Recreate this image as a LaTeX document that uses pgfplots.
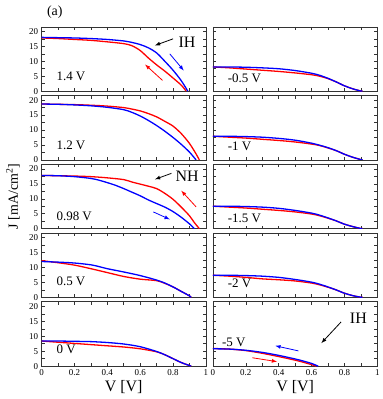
\documentclass[border=0pt]{standalone}
\usepackage{fontspec}
\setmainfont{Liberation Serif}
\usepackage{pgfplots}
\pgfplotsset{compat=1.18}
\usepgfplotslibrary{groupplots}

\pgfplotsset{
  jv/.style={
    width=165pt, height=64.5pt, scale only axis,
    xmin=0, xmax=1, ymin=0, ymax=21.5,
    xtick={0,0.2,0.4,0.6,0.8,1}, ytick={0,5,10,15,20},
    minor x tick num=1, minor y tick num=1,
    major tick length=3pt, minor tick length=3pt,
    tick style={black!80, line width=0.5pt},
    axis line style={black!80, line width=0.8pt},
    tick label style={font=\fontsize{9}{10}\selectfont},
    /pgf/number format/assume math mode=true,
    every axis plot/.append style={line width=1.3pt, no markers, smooth},
  },
}
\tikzset{vlab/.style={anchor=west, font=\fontsize{13}{14}\selectfont}}

\begin{document}
\begin{tikzpicture}
\begin{groupplot}[jv,
  group style={group size=2 by 5, horizontal sep=7pt, vertical sep=4.5pt,
    xticklabels at=edge bottom, yticklabels at=edge left}]

% 1.4 V
\nextgroupplot
\addplot[red] coordinates {(0,17.8)(0.1,17.6)(0.2,17.3)(0.3,17.0)(0.4,16.5)(0.5,15.9)(0.55,15.2)(0.6,13.6)(0.65,11.1)(0.7,8.8)(0.75,6.7)(0.8,4.4)(0.85,2.0)(0.88,0)};
\addplot[blue] coordinates {(0,18)(0.1,17.9)(0.2,17.8)(0.3,17.6)(0.4,17.3)(0.5,16.8)(0.55,16.3)(0.6,15.6)(0.65,14.5)(0.7,12.8)(0.75,10.0)(0.8,7.0)(0.85,3.5)(0.89,0)};
\node[vlab] at (axis cs:0.07,5) {1.4 V};
\node[font=\fontsize{16}{17}\selectfont] at (axis cs:0.885,16.3) {IH};
\draw[-latex, black, line width=0.8pt] (axis cs:0.80,17.5) -- (axis cs:0.69,15.3);
\draw[-latex, blue, line width=0.8pt] (axis cs:0.78,12.5) -- (axis cs:0.865,6.9);
\draw[-latex, red, line width=0.8pt] (axis cs:0.736,3.6) -- (axis cs:0.63,8.9);

% -0.5 V
\nextgroupplot
\addplot[red] coordinates {(0,8.1)(0.1,7.8)(0.2,7.4)(0.3,7.0)(0.4,6.6)(0.5,6.1)(0.6,5.5)(0.65,5.0)(0.7,4.2)(0.75,3.1)(0.8,1.8)(0.85,0.8)(0.9,0.05)(0.91,0)};
\addplot[blue] coordinates {(0,8.1)(0.1,8.1)(0.2,8.0)(0.3,7.8)(0.4,7.5)(0.5,6.9)(0.6,6.0)(0.65,5.3)(0.7,4.3)(0.75,3.1)(0.8,1.8)(0.85,0.8)(0.9,0.05)(0.91,0)};
\node[vlab] at (axis cs:0.07,4.3) {-0.5 V};

% 1.2 V
\nextgroupplot
\addplot[red] coordinates {(0,18.7)(0.1,18.6)(0.2,18.5)(0.3,18.3)(0.4,18.0)(0.5,17.5)(0.55,17.0)(0.6,16.4)(0.65,15.5)(0.7,14.4)(0.75,12.9)(0.8,11.3)(0.85,8.8)(0.9,5.5)(0.94,2.0)(0.96,0)};
\addplot[blue] coordinates {(0,18.7)(0.1,18.6)(0.2,18.4)(0.3,18.1)(0.4,17.6)(0.5,16.8)(0.55,15.9)(0.6,14.7)(0.65,13.2)(0.7,11.5)(0.75,9.6)(0.8,7.5)(0.85,5.2)(0.9,2.6)(0.94,0)};
\node[vlab] at (axis cs:0.07,5) {1.2 V};

% -1 V
\nextgroupplot
\addplot[red] coordinates {(0,7.9)(0.1,7.6)(0.2,7.3)(0.3,6.9)(0.4,6.5)(0.5,6.0)(0.6,5.3)(0.65,4.8)(0.7,4.0)(0.75,3.1)(0.8,1.9)(0.85,0.9)(0.9,0.1)(0.91,0)};
\addplot[blue] coordinates {(0,7.9)(0.1,7.9)(0.2,7.8)(0.3,7.6)(0.4,7.2)(0.5,6.6)(0.6,5.6)(0.65,4.9)(0.7,4.1)(0.75,3.1)(0.8,1.9)(0.85,0.9)(0.9,0.1)(0.91,0)};
\node[vlab] at (axis cs:0.07,4.5) {-1 V};

% 0.98 V
\nextgroupplot
\addplot[red] coordinates {(0,17.8)(0.1,17.7)(0.2,17.6)(0.3,17.4)(0.4,17.0)(0.5,16.4)(0.55,15.6)(0.6,14.9)(0.65,14.2)(0.7,13.4)(0.75,11.8)(0.8,9.8)(0.85,7.2)(0.9,4.3)(0.93,2.0)(0.96,0)};
\addplot[blue] coordinates {(0,17.8)(0.1,17.7)(0.2,17.4)(0.3,16.8)(0.35,16.2)(0.4,15.4)(0.45,14.5)(0.5,13.4)(0.55,12.2)(0.6,11.0)(0.65,9.6)(0.7,8.4)(0.75,7.2)(0.8,5.7)(0.85,3.8)(0.9,1.6)(0.93,0)};
\node[vlab] at (axis cs:0.07,4) {0.98 V};
\node[font=\fontsize{16}{17}\selectfont] at (axis cs:0.885,17.4) {NH};
\draw[-latex, black, line width=0.8pt] (axis cs:0.79,18.5) -- (axis cs:0.69,16.5);
\draw[-latex, red, line width=0.8pt] (axis cs:0.94,7.3) -- (axis cs:0.85,12.7);
\draw[-latex, blue, line width=0.8pt] (axis cs:0.68,5.6) -- (axis cs:0.78,3.1);

% -1.5 V
\nextgroupplot
\addplot[red] coordinates {(0,7.5)(0.1,7.2)(0.2,6.9)(0.3,6.5)(0.4,6.1)(0.5,5.6)(0.6,4.9)(0.65,4.3)(0.7,3.5)(0.75,2.6)(0.8,1.5)(0.85,0.7)(0.9,0.05)(0.91,0)};
\addplot[blue] coordinates {(0,7.5)(0.1,7.5)(0.2,7.4)(0.3,7.2)(0.4,6.8)(0.5,6.1)(0.6,5.2)(0.65,4.5)(0.7,3.6)(0.75,2.6)(0.8,1.5)(0.85,0.7)(0.9,0.05)(0.91,0)};
\node[vlab] at (axis cs:0.07,3.5) {-1.5 V};

% 0.5 V
\nextgroupplot
\addplot[red] coordinates {(0,12.3)(0.1,11.6)(0.2,10.8)(0.3,9.6)(0.4,8.3)(0.5,7.0)(0.6,6.1)(0.7,5.6)(0.75,4.7)(0.8,3.5)(0.85,2.0)(0.9,0.5)(0.91,0)};
\addplot[blue] coordinates {(0,12)(0.1,11.8)(0.2,11.5)(0.3,10.9)(0.35,10.3)(0.4,9.6)(0.5,8.5)(0.6,7.3)(0.7,5.8)(0.75,4.8)(0.8,3.5)(0.85,2.0)(0.9,0.5)(0.91,0)};
\node[vlab] at (axis cs:0.07,5.3) {0.5 V};

% -2 V
\nextgroupplot
\addplot[red] coordinates {(0,7.4)(0.1,7.1)(0.2,6.7)(0.3,6.2)(0.4,5.9)(0.5,5.5)(0.6,4.8)(0.65,4.2)(0.7,3.4)(0.75,2.5)(0.8,1.4)(0.85,0.6)(0.9,0.05)(0.91,0)};
\addplot[blue] coordinates {(0,7.4)(0.1,7.4)(0.2,7.3)(0.3,7.1)(0.4,6.7)(0.5,6.0)(0.6,5.1)(0.65,4.4)(0.7,3.5)(0.75,2.5)(0.8,1.4)(0.85,0.6)(0.9,0.05)(0.91,0)};
\node[vlab] at (axis cs:0.07,4.8) {-2 V};

% 0 V
\nextgroupplot[xlabel={V [V]}, xlabel style={font=\fontsize{16}{17}\selectfont, yshift=2pt}]
\addplot[red] coordinates {(0,8.4)(0.1,8.0)(0.2,7.6)(0.3,7.2)(0.4,6.8)(0.5,6.4)(0.6,5.8)(0.7,4.8)(0.75,3.8)(0.8,2.5)(0.85,1.2)(0.9,0.2)(0.91,0)};
\addplot[blue] coordinates {(0,8.4)(0.1,8.4)(0.2,8.3)(0.3,8.2)(0.4,7.9)(0.5,7.4)(0.6,6.5)(0.7,4.9)(0.75,3.8)(0.8,2.5)(0.85,1.2)(0.9,0.2)(0.91,0)};
\node[vlab] at (axis cs:0.07,5.5) {0 V};

% -5 V
\nextgroupplot[xlabel={V [V]}, xlabel style={font=\fontsize{16}{17}\selectfont, yshift=2pt}]
\addplot[red] coordinates {(0,5.9)(0.1,5.7)(0.2,5.2)(0.3,4.3)(0.4,3.2)(0.5,2.0)(0.55,1.3)(0.6,0.5)(0.63,0)};
\addplot[blue] coordinates {(0,5.8)(0.1,5.7)(0.2,5.3)(0.3,4.6)(0.4,3.6)(0.5,2.4)(0.55,1.7)(0.6,0.9)(0.64,0)};
\node[vlab] at (axis cs:0.035,8) {-5 V};
\node[font=\fontsize{16}{17}\selectfont] at (axis cs:0.885,15.9) {IH};
\draw[-latex, black, line width=0.8pt] (axis cs:0.78,14.8) -- (axis cs:0.66,7.7);
\draw[-latex, blue, line width=0.8pt] (axis cs:0.52,5.1) -- (axis cs:0.38,6.8);
\draw[-latex, red, line width=0.8pt] (axis cs:0.24,2.8) -- (axis cs:0.39,1.5);
\end{groupplot}

\node[rotate=90, font=\fontsize{14}{15}\selectfont] at ([xshift=-28.7pt]group c1r3.west) {J [mA/cm\textsuperscript{2}]};
\node[font=\fontsize{14}{15}\selectfont] at ([shift={(13.3pt,15pt)}]group c1r1.north west) {(a)};
\path ([shift={(-41.7pt,27pt)}]group c1r1.north west) rectangle ([shift={(4.3pt,-33pt)}]group c2r5.south east);
\end{tikzpicture}
\end{document}
